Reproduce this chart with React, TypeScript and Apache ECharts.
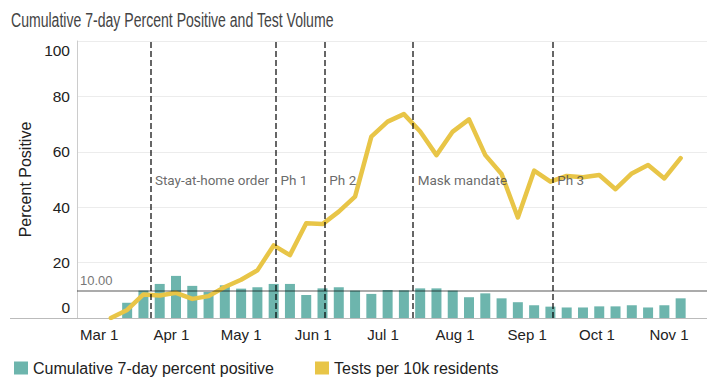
import React, { useEffect, useRef } from 'react';
import * as echarts from 'echarts';

const MONTHS = ['Jan', 'Feb', 'Mar', 'Apr', 'May', 'Jun', 'Jul', 'Aug', 'Sep', 'Oct', 'Nov', 'Dec'];

const TITLE = 'Cumulative 7-day Percent Positive and Test Volume';

// Weekly dates for the tests line (first point precedes the first bar)
const weekDates = [
  '2020-03-06', '2020-03-13', '2020-03-20', '2020-03-27',
  '2020-04-03', '2020-04-10', '2020-04-17', '2020-04-24',
  '2020-05-01', '2020-05-08', '2020-05-15', '2020-05-22', '2020-05-29',
  '2020-06-05', '2020-06-12', '2020-06-19', '2020-06-26',
  '2020-07-03', '2020-07-10', '2020-07-17', '2020-07-24', '2020-07-31',
  '2020-08-07', '2020-08-14', '2020-08-21', '2020-08-28',
  '2020-09-04', '2020-09-11', '2020-09-18', '2020-09-25',
  '2020-10-02', '2020-10-09', '2020-10-16', '2020-10-23', '2020-10-30',
  '2020-11-06',
];

const testsPer10k = [
  0, 2.9, 8.5, 8.1,
  9.1, 6.9, 7.9, 11.2,
  13.8, 17.2, 26.2, 22.7, 34.2,
  33.9, 38.4, 43.8, 65.5,
  70.9, 73.6, 67.3, 58.8, 67.3,
  71.7, 58.8, 52.0, 36.3,
  53.2, 49.2, 51.3, 50.8,
  51.6, 46.5, 52.2, 55.2, 50.4,
  57.7,
];

const barDates = [
  '2020-03-13', '2020-03-20', '2020-03-27',
  '2020-04-03', '2020-04-10', '2020-04-17', '2020-04-24',
  '2020-05-01', '2020-05-08', '2020-05-15', '2020-05-22', '2020-05-29',
  '2020-06-05', '2020-06-12', '2020-06-19', '2020-06-26',
  '2020-07-03', '2020-07-10', '2020-07-17', '2020-07-24', '2020-07-31',
  '2020-08-07', '2020-08-14', '2020-08-21', '2020-08-28',
  '2020-09-04', '2020-09-11', '2020-09-18', '2020-09-25',
  '2020-10-02', '2020-10-09', '2020-10-16', '2020-10-23', '2020-10-30',
  '2020-11-06',
];

const percentPositive = [
  5.5, 9.9, 12.3,
  15.2, 11.6, 9.4, 11.8,
  10.6, 11.1, 12.3, 12.3, 8.3,
  10.7, 11.1, 9.9, 8.7,
  10.1, 10.0, 10.7, 10.7, 9.9,
  7.5, 8.9, 7.1, 5.7,
  4.6, 4.1, 3.8, 3.8,
  4.2, 4.2, 4.6, 3.8, 4.6,
  7.1,
];

const eventDates = ['2020-03-23', '2020-05-16', '2020-06-06', '2020-07-14', '2020-09-12'];
const eventLabels = ['Stay-at-home order', 'Ph 1', 'Ph 2', 'Mask mandate', 'Ph 3'];
const eventLabelY = 50;

const referenceLine = 10;
const yMin = 0;
const yMax = 100;
const yInterval = 20;

const FONT = "'Liberation Sans', Arial, Helvetica, sans-serif";
const DAY = 86400000;

function ts(s: string): number {
  const [y, m, d] = s.split('-').map(Number);
  return new Date(y, m - 1, d).getTime();
}

export default function App() {
  const ref = useRef<HTMLDivElement>(null);

  useEffect(() => {
    if (!ref.current) return;
    const chart = echarts.init(ref.current, undefined, { renderer: 'svg' });
    // ECharts widens a time axis holding bars by half a bar on each side; compensate.
    const xMin = new Date(2020, 1, 22, 14).getTime();
    const xMax = xMin + 266.6 * DAY;

    const option: any = {
      animation: false,
      textStyle: { fontFamily: FONT },
      grid: { left: 77, right: 0, top: 41, bottom: 71, containLabel: false, outerBoundsMode: 'none' },
      legend: {
        left: 14,
        top: 360,
        padding: 0,
        itemWidth: 14,
        itemHeight: 13,
        itemGap: 41,
        textStyle: { fontSize: 16, color: '#222', fontFamily: FONT },
        data: [
          { name: 'Cumulative 7-day percent positive', icon: 'rect' },
          { name: 'Tests per 10k residents', icon: 'rect' },
        ],
      },
      xAxis: {
        type: 'time',
        min: xMin,
        max: xMax,
        minInterval: 28 * DAY,
        maxInterval: 31 * DAY,
        axisLine: { show: true, lineStyle: { color: '#bbb', width: 1 } },
        axisTick: { show: false },
        splitLine: { show: false },
        axisLabel: {
          color: '#222',
          fontSize: 15,
          margin: 9,
          fontFamily: FONT,
          formatter: (v: number) => {
            const d = new Date(v);
            if (d.getDate() !== 1) return '';
            return MONTHS[d.getMonth()] + ' 1';
          },
        },
      },
      yAxis: {
        type: 'value',
        min: yMin,
        max: yMax,
        interval: yInterval,
        name: 'Percent Positive',
        nameLocation: 'middle',
        nameGap: 38,
        nameTextStyle: { fontSize: 16, color: '#222', fontFamily: FONT },
        axisLine: { show: true, lineStyle: { color: '#ccc' } },
        axisTick: { show: false },
        splitLine: { lineStyle: { color: '#ececec', width: 1 } },
        axisLabel: {
          color: '#222',
          fontSize: 15.5,
          margin: 7,
          fontFamily: FONT,
          formatter: (v: number) =>
            v === yMax ? '{top|' + v + '}' : v === yMin ? '{bot|' + v + '}' : '{n|' + v + '}',
          rich: {
            top: { padding: [19, 0, 0, 0], fontSize: 15.5, color: '#222', fontFamily: FONT },
            bot: { padding: [0, 0, 21, 0], fontSize: 15.5, color: '#222', fontFamily: FONT },
            n: { fontSize: 15.5, color: '#222', fontFamily: FONT },
          },
        },
      },
      graphic: [
        {
          type: 'text',
          x: 11,
          y: 20,
          scaleX: 0.67,
          silent: true,
          style: {
            text: TITLE,
            fontSize: 21,
            fontFamily: FONT,
            fill: '#444',
            verticalAlign: 'middle',
            align: 'left',
          },
        },
        {
          type: 'line',
          shape: { x1: 10, y1: 318.5, x2: 77, y2: 318.5 },
          style: { stroke: '#bbb', lineWidth: 1 },
          silent: true,
        },
      ],
      series: [
        {
          name: 'Cumulative 7-day percent positive',
          type: 'bar',
          data: barDates.map((d, i) => [ts(d), percentPositive[i]]),
          barWidth: 10,
          itemStyle: { color: '#6db5ad' },
          z: 2,
          markLine: {
            silent: true,
            symbol: ['none', 'none'],
            data: [{ yAxis: referenceLine }],
            lineStyle: { type: 'solid', color: 'rgba(0,0,0,0.33)', width: 2 },
            label: {
              show: true,
              position: 'insideStartTop',
              formatter: referenceLine.toFixed(2),
              color: '#777',
              fontSize: 13,
              fontFamily: FONT,
              distance: [3, 3],
            },
            emphasis: { disabled: true },
          },
        },
        {
          name: 'Tests per 10k residents',
          type: 'line',
          data: weekDates.map((d, i) => [ts(d), testsPer10k[i]]),
          symbol: 'none',
          showSymbol: false,
          lineStyle: { color: '#e8c547', width: 4.5, join: 'round', cap: 'round' },
          itemStyle: { color: '#e8c547' },
          z: 3,
        },
        {
          name: 'events',
          type: 'scatter',
          data: eventDates.map((d) => [ts(d), eventLabelY]),
          symbolSize: 1,
          itemStyle: { color: 'transparent' },
          z: 5,
          silent: true,
          label: {
            show: true,
            position: 'right',
            distance: 4,
            formatter: (p: any) => eventLabels[p.dataIndex],
            fontFamily: 'Roboto',
            fontSize: 13.5,
            color: '#444',
          },
          markLine: {
            silent: true,
            symbol: ['none', 'none'],
            data: eventDates.map((d) => ({ xAxis: ts(d) })),
            lineStyle: { type: [6, 3], color: 'rgba(0,0,0,0.6)', width: 2 },
            label: { show: false },
            emphasis: { disabled: true },
          },
        },
      ],
    };

    chart.setOption(option);
    return () => chart.dispose();
  }, []);

  return (
    <div
      ref={ref}
      style={{ position: 'fixed', left: 0, top: 0, width: 707, height: 389, background: '#fff' }}
    />
  );
}
